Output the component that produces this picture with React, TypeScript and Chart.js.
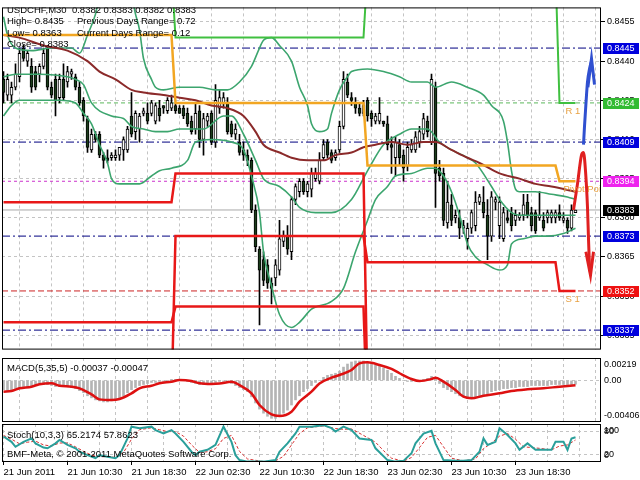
import { useEffect, useRef } from "react";
import { Chart, registerables } from "chart.js";

Chart.register(...registerables);

// ---------------- data ----------------
const xLabelBars = [0, 16, 32, 48, 64, 80, 96, 112, 128];
const xTickLabels = ["21 Jun 2011", "21 Jun 10:30", "21 Jun 18:30", "22 Jun 02:30", "22 Jun 10:30", "22 Jun 18:30", "23 Jun 02:30", "23 Jun 10:30", "23 Jun 18:30"];
const gridBars = [0, 8, 16, 24, 32, 40, 48, 56, 64, 72, 80, 88, 96, 104, 112, 120, 128, 136, 144];
const priceTicks = [0.8335, 0.835, 0.8365, 0.838, 0.8395, 0.841, 0.8425, 0.844, 0.8455];

const openPrices = [
  0.8433, 0.8427, 0.8427, 0.843, 0.8434, 0.8445, 0.844, 0.8438, 0.8436, 0.8435,
  0.8438, 0.8445, 0.843, 0.8433, 0.8426, 0.8433, 0.8432, 0.8435, 0.8434, 0.843,
  0.8425, 0.8418, 0.8406, 0.8412, 0.8412, 0.8404, 0.8403, 0.8403, 0.8403, 0.8404,
  0.8406, 0.8406, 0.8419, 0.8413, 0.8414, 0.842, 0.842, 0.842, 0.8417, 0.8422,
  0.8423, 0.8421, 0.8422, 0.8423, 0.8422, 0.8422, 0.842, 0.8417, 0.8414, 0.8421,
  0.841, 0.8417, 0.842, 0.8409, 0.8422, 0.8424, 0.8424, 0.8416, 0.8412, 0.8409,
  0.8406, 0.8404, 0.8402, 0.8383, 0.8368, 0.8364, 0.8362, 0.8355, 0.8357, 0.836,
  0.8371, 0.8373, 0.8367, 0.8387, 0.839, 0.8394, 0.839, 0.8391, 0.8395, 0.8394,
  0.8403, 0.8409, 0.8405, 0.8403, 0.8406, 0.8415, 0.8432, 0.8426, 0.8424, 0.8422,
  0.842, 0.8425, 0.842, 0.8417, 0.8417, 0.8417, 0.8416, 0.8408, 0.8403, 0.8408,
  0.8404, 0.84, 0.8406, 0.8406, 0.8409, 0.8412, 0.8417, 0.8409, 0.843, 0.8399,
  0.8397, 0.8378, 0.8385, 0.838, 0.838, 0.8376, 0.8372, 0.8376, 0.8377, 0.8386,
  0.8386, 0.8381, 0.8373, 0.8386, 0.8377, 0.8372, 0.838, 0.8382, 0.8379, 0.838,
  0.8381, 0.8386, 0.8382, 0.8382, 0.838, 0.8379, 0.838, 0.838, 0.838, 0.8382,
  0.8379, 0.8379, 0.8376, 0.8382,
];
const highPrices = [
  0.8436, 0.8435, 0.8432, 0.8439, 0.8445, 0.8446, 0.8444, 0.8441, 0.8438, 0.8439,
  0.8445, 0.8446, 0.8432, 0.8435, 0.8435, 0.8439, 0.8438, 0.8437, 0.8435, 0.8432,
  0.8426, 0.8419, 0.8414, 0.8413, 0.8413, 0.8405, 0.8406, 0.8405, 0.8406, 0.8407,
  0.8411, 0.8415, 0.8428, 0.8421, 0.842, 0.8422, 0.8424, 0.8425, 0.8424, 0.8425,
  0.8423, 0.8426, 0.8427, 0.8424, 0.8423, 0.8423, 0.8422, 0.8419, 0.8424, 0.8423,
  0.842, 0.842, 0.8421, 0.8431, 0.8429, 0.8428, 0.8426, 0.8417, 0.8416, 0.8412,
  0.8409, 0.8406, 0.8403, 0.8385, 0.8369, 0.8367, 0.8364, 0.8357, 0.8364, 0.8379,
  0.8375, 0.8377, 0.8388, 0.8393, 0.8395, 0.8395, 0.8394, 0.8399, 0.8399, 0.8405,
  0.841, 0.841, 0.8406, 0.8406, 0.8417, 0.8436, 0.8435, 0.8428, 0.8426, 0.8424,
  0.8425, 0.8426, 0.8421, 0.842, 0.8426, 0.8417, 0.8419, 0.8411, 0.8411, 0.841,
  0.8406, 0.8409, 0.841, 0.8413, 0.8415, 0.842, 0.8419, 0.8435, 0.8432, 0.8402,
  0.8399, 0.8394, 0.8389, 0.8383, 0.8383, 0.8379, 0.8378, 0.8383, 0.839, 0.8389,
  0.8392, 0.8387, 0.839, 0.8388, 0.8388, 0.8384, 0.8383, 0.8384, 0.8383, 0.8382,
  0.8389, 0.8389, 0.8384, 0.8383, 0.839, 0.8382, 0.8383, 0.8383, 0.8383, 0.8385,
  0.8382, 0.838, 0.8385, 0.8383,
];
const lowPrices = [
  0.8424, 0.8425, 0.8424, 0.8429, 0.8432, 0.844, 0.8438, 0.8428, 0.8429, 0.8432,
  0.8437, 0.8429, 0.8426, 0.8419, 0.8424, 0.8425, 0.843, 0.8433, 0.8429, 0.8423,
  0.8417, 0.8405, 0.8405, 0.8409, 0.8403, 0.8399, 0.8401, 0.8402, 0.8402, 0.8402,
  0.8402, 0.8405, 0.8411, 0.841, 0.8409, 0.8419, 0.8416, 0.8419, 0.8416, 0.8417,
  0.842, 0.842, 0.8421, 0.842, 0.842, 0.8418, 0.8415, 0.8412, 0.8412, 0.8407,
  0.8404, 0.8415, 0.8408, 0.8407, 0.842, 0.8422, 0.8412, 0.8411, 0.841, 0.8404,
  0.8402, 0.84, 0.8382, 0.8367, 0.8339, 0.8354, 0.8353, 0.8347, 0.8354, 0.8358,
  0.8369, 0.8366, 0.8364, 0.8385, 0.8388, 0.8389, 0.8388, 0.8388, 0.8394, 0.8393,
  0.8402, 0.8403, 0.8401, 0.8402, 0.8405, 0.8414, 0.8426, 0.8423, 0.842, 0.8419,
  0.8419, 0.8417, 0.8415, 0.8416, 0.8416, 0.8415, 0.8406, 0.8397, 0.8396, 0.84,
  0.8394, 0.8398, 0.8405, 0.8405, 0.8407, 0.841, 0.8411, 0.8408, 0.8384, 0.8394,
  0.8377, 0.8376, 0.8377, 0.8378, 0.8372, 0.8374, 0.8368, 0.8374, 0.8375, 0.8385,
  0.838, 0.8364, 0.8371, 0.8383, 0.8372, 0.8371, 0.8378, 0.8375, 0.8377, 0.8379,
  0.8379, 0.838, 0.8375, 0.8374, 0.8379, 0.8375, 0.8378, 0.8378, 0.8378, 0.8379,
  0.8378, 0.8374, 0.8375, 0.8382,
];
const closePrices = [
  0.8428, 0.8433, 0.843, 0.8435, 0.8443, 0.8441, 0.8443, 0.843, 0.843, 0.8438,
  0.8443, 0.843, 0.8427, 0.8425, 0.8433, 0.8426, 0.8436, 0.8436, 0.843, 0.8424,
  0.8419, 0.8407, 0.8412, 0.841, 0.8404, 0.8402, 0.8402, 0.8404, 0.8404, 0.8407,
  0.841, 0.8414, 0.8412, 0.842, 0.8419, 0.8421, 0.8417, 0.8424, 0.8423, 0.8419,
  0.8422, 0.8425, 0.8424, 0.8421, 0.842, 0.8419, 0.8416, 0.8413, 0.842, 0.841,
  0.8418, 0.8419, 0.8409, 0.8425, 0.8426, 0.8426, 0.8413, 0.8412, 0.8414, 0.8405,
  0.8404, 0.8402, 0.8383, 0.8369, 0.836, 0.8356, 0.8355, 0.8353, 0.8362, 0.8372,
  0.8373, 0.8368, 0.8387, 0.8392, 0.8394, 0.839, 0.8393, 0.8397, 0.8397, 0.8402,
  0.8408, 0.8404, 0.8402, 0.8405, 0.8415, 0.8433, 0.8427, 0.8425, 0.8422, 0.842,
  0.8423, 0.8419, 0.8418, 0.8419, 0.842, 0.8416, 0.8408, 0.8407, 0.8409, 0.8403,
  0.8399, 0.8407, 0.8408, 0.8411, 0.8413, 0.8418, 0.8413, 0.8433, 0.8397, 0.8396,
  0.8379, 0.8386, 0.8379, 0.8381, 0.8376, 0.8377, 0.8376, 0.8382, 0.8386, 0.8388,
  0.8382, 0.8373, 0.8388, 0.8387, 0.8386, 0.8382, 0.8379, 0.8377, 0.8381, 0.8381,
  0.8385, 0.8381, 0.8377, 0.8375, 0.8381, 0.8376, 0.8382, 0.8382, 0.8382, 0.838,
  0.838, 0.8376, 0.8383, 0.8383,
];

// Bollinger bands and moving average: [bar, price]
const bbUpper = [[0, 0.8457], [1, 0.845], [3, 0.8445], [7, 0.8444], [12, 0.8445], [17, 0.8445], [19, 0.8443], [21, 0.845], [23, 0.8458], [24, 0.8465], [28, 0.8471], [32, 0.8465], [33, 0.8458], [34, 0.8452], [35, 0.8441], [37, 0.8433], [38, 0.843], [40, 0.8429], [44, 0.843], [49, 0.843], [53, 0.8429], [56, 0.8429], [59, 0.8432], [62, 0.8438], [64, 0.8445], [65, 0.8448], [67, 0.8449], [69, 0.8446], [72, 0.844], [74, 0.843], [76, 0.8423], [77, 0.8416], [79, 0.8413], [81, 0.8414], [82, 0.842], [84, 0.8429], [86, 0.8434], [87, 0.8436], [91, 0.8437], [95, 0.8436], [99, 0.8434], [102, 0.8432], [106, 0.8432], [108, 0.843], [112, 0.8432], [116, 0.843], [120, 0.8427], [122, 0.8423], [125, 0.8417], [126, 0.8409], [127, 0.8398], [128, 0.8391], [129, 0.839], [133, 0.839], [137, 0.8389], [141, 0.8388], [143, 0.8387]];
const bbMiddle = [[0, 0.8434], [3, 0.8435], [9, 0.8435], [16, 0.8434], [18, 0.8433], [20, 0.8431], [22, 0.8424], [27, 0.8419], [30, 0.8418], [32, 0.8415], [35, 0.8414], [38, 0.8413], [41, 0.8413], [44, 0.8414], [48, 0.8414], [50, 0.8414], [55, 0.8419], [57, 0.8419], [60, 0.8412], [63, 0.8402], [65, 0.8395], [69, 0.8392], [72, 0.8388], [74, 0.8384], [78, 0.8382], [82, 0.8382], [87, 0.8387], [91, 0.8398], [95, 0.8408], [99, 0.8412], [102, 0.8414], [106, 0.8414], [109, 0.8409], [112, 0.8406], [116, 0.8403], [118, 0.8401], [122, 0.8392], [124, 0.8387], [127, 0.8382], [129, 0.8381], [133, 0.8381], [141, 0.8381], [143, 0.8381]];
const bbLower = [[0, 0.8419], [2, 0.8423], [4, 0.8425], [9, 0.8425], [14, 0.8425], [18, 0.8424], [20, 0.842], [22, 0.8416], [24, 0.8408], [26, 0.8401], [27, 0.8395], [29, 0.8393], [34, 0.8393], [37, 0.8396], [39, 0.8398], [42, 0.8399], [46, 0.8402], [48, 0.8409], [52, 0.841], [57, 0.8409], [60, 0.8406], [62, 0.8396], [64, 0.8382], [65, 0.8367], [67, 0.8354], [69, 0.8343], [72, 0.8338], [74, 0.834], [77, 0.8345], [82, 0.8348], [85, 0.8353], [88, 0.8367], [91, 0.8379], [93, 0.8387], [96, 0.8392], [98, 0.8396], [102, 0.8397], [106, 0.8399], [108, 0.8399], [110, 0.8396], [112, 0.839], [114, 0.8381], [116, 0.837], [118, 0.8365], [121, 0.8362], [124, 0.836], [126, 0.8362], [127, 0.837], [130, 0.8372], [133, 0.8373], [136, 0.8373], [140, 0.8374], [143, 0.8376]];
const maLine = [[0, 0.845], [4, 0.8449], [10, 0.8446], [16, 0.8444], [21, 0.844], [24, 0.8436], [28, 0.8433], [32, 0.8429], [35, 0.8428], [40, 0.8427], [44, 0.8426], [48, 0.8425], [52, 0.8423], [56, 0.8422], [60, 0.8419], [63, 0.8413], [65, 0.8408], [69, 0.8405], [72, 0.8403], [76, 0.8402], [80, 0.8402], [83, 0.8404], [87, 0.8405], [90, 0.8407], [93, 0.8408], [97, 0.8409], [101, 0.8408], [105, 0.8409], [108, 0.8409], [112, 0.8406], [116, 0.8403], [119, 0.8401], [124, 0.8397], [129, 0.8395], [133, 0.8393], [137, 0.8392], [143, 0.839]];

// daily pivot levels (step lines): [bar, price]
const pivotLine = [[0, 0.845], [42, 0.845], [43, 0.8424], [90, 0.8424], [91, 0.84], [138, 0.84], [139, 0.8394], [143, 0.8394]];
const r1Line = [[0, 0.8475], [42, 0.8475], [43, 0.8449], [90, 0.8449], [91, 0.8475], [138, 0.8475], [139, 0.8424], [143, 0.8424]];
const sLineA = [[0, 0.8386], [42, 0.8386], [43, 0.8397], [90, 0.8397], [91, 0.831], [143, 0.831]];
const sLineB = [[0, 0.834], [42, 0.834], [43, 0.8346], [90, 0.8346], [91, 0.83], [143, 0.83]];
const sLineC = [[0, 0.831], [42, 0.831], [43, 0.8373], [90, 0.8373], [91, 0.8363], [138, 0.8363], [139, 0.8352], [143, 0.8352]];

// horizontal price levels
const levelPrices = [0.8445, 0.8424, 0.8409, 0.8394, 0.8383, 0.8373, 0.8352, 0.8337];

// forecast arrows: [bar, price]
const redArrow = [[142.5, 0.8383], [143.5, 0.8393], [144.5, 0.8404], [145, 0.8405], [145.5, 0.8398], [146, 0.8384], [146.25, 0.8372], [146.5, 0.8362], [146.75, 0.8359]];
const redArrowHead = [[145.6, 0.8367], [146.75, 0.8358], [147.5, 0.8367]];
const blueArrow = [[145, 0.8408], [145.25, 0.8415], [145.5, 0.8421], [145.75, 0.8427], [146, 0.8432], [146.5, 0.8437], [147, 0.844]];
const blueArrowHead = [[146.1, 0.843], [147, 0.8441], [147.75, 0.8431]];

// MACD(5,35,5)
const macdHist = [
  -0.0009, -0.001, -0.0009, -0.0008, -0.0007, -0.0006, -0.0006, -0.0005, -0.0005, -0.0004,
  -0.0004, -0.0004, -0.0005, -0.0006, -0.0006, -0.0006, -0.0006, -0.0007, -0.0008, -0.001,
  -0.0012, -0.0015, -0.0017, -0.0019, -0.002, -0.0021, -0.0021, -0.002, -0.0019, -0.0017,
  -0.0015, -0.0012, -0.0009, -0.0007, -0.0005, -0.0004, -0.0003, -0.0002, -0.0002, -0.0001,
  -0.0001, 0.0, 0.0001, 0.0001, 0.0001, 0.0, -0.0001, -0.0002, -0.0003, -0.0004,
  -0.0004, -0.0004, -0.0003, -0.0002, -0.0001, -0.0001, -0.0002, -0.0003, -0.0005, -0.0007,
  -0.0009, -0.0011, -0.0016, -0.0022, -0.0028, -0.0032, -0.0035, -0.0037, -0.0037, -0.0035,
  -0.0032, -0.0029, -0.0024, -0.0019, -0.0015, -0.0011, -0.0008, -0.0005, -0.0002, 0.0,
  0.0003, 0.0005, 0.0006, 0.0007, 0.0009, 0.0013, 0.0016, 0.0018, 0.0019, 0.0019,
  0.0019, 0.0018, 0.0017, 0.0015, 0.0014, 0.0012, 0.001, 0.0007, 0.0004, 0.0002,
  0.0, -0.0001, -0.0001, 0.0, 0.0, 0.0001, 0.0002, 0.0004, 0.0001, -0.0003,
  -0.0007, -0.0009, -0.0011, -0.0013, -0.0015, -0.0016, -0.0017, -0.0017, -0.0016, -0.0015,
  -0.0014, -0.0013, -0.0011, -0.001, -0.0009, -0.0008, -0.0008, -0.0007, -0.0007, -0.0006,
  -0.0006, -0.0006, -0.0005, -0.0005, -0.0005, -0.0005, -0.0005, -0.0004, -0.0004, -0.0004,
  -0.0004, -0.0004, -0.0004, -0.00037,
];
const macdSignal = [[0, -0.0011], [2, -0.00103], [4, -0.00077], [7, -0.00061], [9, -0.00038], [12, -0.00028], [14, -0.00052], [17, -0.00061], [19, -0.00077], [22, -0.00136], [24, -0.00185], [27, -0.00192], [29, -0.00182], [32, -0.00126], [34, -0.00077], [37, -0.00052], [39, -0.00028], [42, -0.00012], [44, 0.00004], [47, -0.00006], [49, -0.00028], [52, -0.00035], [54, -0.00031], [57, -0.00012], [59, -0.00045], [62, -0.00126], [64, -0.0024], [67, -0.00332], [69, -0.00347], [72, -0.00305], [74, -0.00208], [77, -0.0011], [79, -0.0003], [82, 0.00027], [84, 0.00053], [87, 0.00102], [89, 0.00167], [91, 0.00177], [94, 0.00151], [97, 0.00112], [99, 0.0007], [102, 0.00014], [104, -0.00006], [107, 0.00014], [108, 0.00027], [110, -0.00012], [113, -0.00093], [115, -0.00159], [117, -0.00175], [120, -0.00149], [124, -0.00126], [127, -0.00103], [131, -0.00087], [135, -0.00077], [139, -0.00061], [143, -0.00047]];

// Stochastic(10,3,3)
const stochMain = [[0, 67], [2, 53], [3, 40], [5, 53], [7, 62], [8, 49], [10, 38], [11, 36], [13, 49], [14, 58], [16, 45], [18, 36], [19, 27], [21, 18], [23, 10], [24, 18], [26, 14], [28, 10], [29, 18], [31, 62], [32, 93], [34, 89], [37, 93], [38, 84], [40, 75], [42, 84], [43, 75], [45, 53], [47, 27], [48, 18], [49, 27], [51, 32], [53, 45], [55, 93], [57, 53], [58, 18], [59, 5], [61, 1], [65, 1], [68, 5], [69, 27], [71, 49], [73, 75], [74, 93], [77, 93], [80, 97], [82, 89], [83, 80], [85, 93], [87, 84], [89, 62], [92, 58], [93, 36], [96, 5], [98, 1], [100, 3], [102, 23], [103, 49], [105, 75], [107, 82], [108, 49], [110, 5], [113, 3], [115, 3], [117, 5], [119, 27], [120, 62], [121, 45], [123, 53], [124, 89], [126, 71], [128, 49], [129, 32], [131, 49], [133, 32], [137, 32], [138, 53], [140, 53], [141, 32], [142, 62], [143, 65.2174]];
const stochSignal = [[0, 70], [2, 60], [4, 48], [6, 52], [8, 55], [10, 45], [12, 42], [14, 50], [16, 50], [18, 40], [20, 28], [22, 18], [24, 14], [26, 14], [28, 12], [30, 25], [32, 60], [34, 85], [37, 90], [39, 85], [41, 80], [43, 80], [45, 68], [47, 45], [49, 25], [51, 27], [53, 35], [55, 62], [57, 70], [59, 28], [61, 8], [65, 1], [68, 3], [70, 15], [72, 45], [74, 75], [76, 90], [80, 95], [83, 88], [85, 86], [87, 87], [90, 70], [93, 52], [95, 30], [97, 10], [100, 2], [102, 12], [104, 38], [106, 65], [108, 70], [110, 40], [112, 10], [115, 3], [118, 8], [120, 35], [122, 50], [124, 68], [126, 75], [128, 60], [130, 40], [132, 38], [134, 36], [137, 32], [139, 42], [141, 45], [143, 57.8623]];

// ---------------- styles / layout ----------------
const X_MIN = -0.375;
const X_MAX = 149.375;
const PRICE_MIN = 0.832954;
const PRICE_MAX = 0.846057;
const MACD_MIN = -0.00406;
const MACD_MAX = 0.00219;
const FONT = '"Liberation Sans", Arial, sans-serif';
const GRID = "#c4c4c4";

const levelColors = ["#000080", "#5cb85c", "#000080", "#cc33cc", "#a8a8a8", "#000080", "#cc2222", "#000080"];
const levelDash = [[8, 3, 2, 3], [4, 3], [8, 3, 2, 3], [3, 3], [], [8, 3, 2, 3], [6, 3], [8, 3, 2, 3]];
const levelLabelBg = ["#0000dd", "#33bb33", "#0000dd", "#ee22ee", "#000000", "#0000dd", "#ee1111", "#0000dd"];

const toXY = (pairs: number[][]) => pairs.map(([x, y]) => ({ x, y }));

function lineDs(pairs: number[][], color: string, width: number, order: number, extra: any = {}) {
  return {
    type: "line",
    data: toXY(pairs),
    borderColor: color,
    borderWidth: width,
    pointRadius: 0,
    fill: false,
    tension: 0,
    order,
    ...extra,
  };
}

function makeDecor(cfg: any) {
  return {
    id: "decor",
    afterDatasetsDraw(chart: any) {
      const { ctx, chartArea: a, scales } = chart;
      ctx.save();
      ctx.beginPath();
      ctx.rect(a.left, a.top, a.right - a.left, a.bottom - a.top);
      ctx.clip();
      ctx.textBaseline = "middle";
      ctx.textAlign = "left";
      for (const t of cfg.anchored || []) {
        ctx.fillStyle = t.color;
        ctx.font = `9.5px ${FONT}`;
        ctx.fillText(t.text, scales.x.getPixelForValue(t.bar), scales.y.getPixelForValue(t.value) + t.dy);
      }
      for (const t of cfg.texts || []) {
        ctx.fillStyle = t.color || "#000";
        ctx.font = `${t.size || 9.5}px ${FONT}`;
        ctx.fillText(t.text, t.x, t.y);
      }
      ctx.restore();
    },
    afterDraw(chart: any) {
      const { ctx, chartArea: a, scales } = chart;
      ctx.save();
      ctx.strokeStyle = "#000";
      ctx.lineWidth = 1;
      ctx.setLineDash([]);
      ctx.strokeRect(a.left + 0.5, a.top + 0.5, a.right - a.left - 1, a.bottom - a.top - 1);
      ctx.font = `9px ${FONT}`;
      ctx.textBaseline = "middle";
      ctx.textAlign = "left";
      for (const b of cfg.boxes || []) {
        const y = Math.round(scales.y.getPixelForValue(b.value));
        ctx.fillStyle = b.bg;
        ctx.fillRect(a.right + 2, y - 5, 36, 11);
        ctx.fillStyle = "#fff";
        ctx.fillText(b.value.toFixed(4), a.right + 6, y + 0.5);
      }
      ctx.fillStyle = "#000";
      for (const s of cfg.side || []) {
        ctx.fillText(s.text, a.right + 3, scales.y.getPixelForValue(s.value) + s.dy);
      }
      ctx.restore();
    },
  };
}

function xScale(showLabels: boolean): any {
  return {
    type: "linear",
    min: X_MIN,
    max: X_MAX,
    offset: false,
    afterBuildTicks: (s: any) => {
      s.ticks = gridBars.map((v) => ({ value: v }));
    },
    ticks: showLabels
      ? {
          autoSkip: false,
          maxRotation: 0,
          minRotation: 0,
          align: "start",
          padding: 2,
          color: "#000",
          font: { family: FONT, size: 9.5 },
          callback: (v: any) => {
            const k = xLabelBars.indexOf(Number(v));
            return k >= 0 ? xTickLabels[k] : "";
          },
        }
      : { display: false },
    grid: {
      color: GRID,
      lineWidth: 1,
      drawTicks: showLabels,
      tickLength: 3,
      tickWidth: 1,
      tickBorderDash: [],
      tickColor: (c: any) => (c.tick && xLabelBars.includes(c.tick.value) ? "#000" : "rgba(0,0,0,0)"),
    },
    border: { display: false, dash: [3, 3] },
    afterFit: (s: any) => {
      s.height = showLabels ? 18 : 0;
    },
  };
}

function subY(min: number, max: number, gridValues: number[]): any {
  return {
    position: "right",
    min,
    max,
    afterBuildTicks: (s: any) => {
      s.ticks = gridValues.map((v) => ({ value: v }));
    },
    ticks: { display: false },
    grid: { color: GRID, drawTicks: false },
    border: { display: false, dash: [3, 3] },
    afterFit: (s: any) => {
      s.width = 39;
    },
  };
}

const baseOptions = {
  responsive: false,
  animation: false,
  devicePixelRatio: 1,
  events: [],
  plugins: { legend: { display: false }, tooltip: { enabled: false } },
};

function mainConfig(): any {
  const idx = openPrices.map((_, i) => i);
  const levelSets = levelPrices.map((p, i) =>
    lineDs([[X_MIN, p], [X_MAX, p]], levelColors[i], 1, 100 + i, { borderDash: levelDash[i] })
  );
  const bbStyle = { cubicInterpolationMode: "monotone" };
  return {
    type: "bar",
    data: {
      datasets: [
        ...levelSets,
        {
          type: "bar",
          data: idx.map((i) => ({ x: i, y: [lowPrices[i], highPrices[i]] })),
          backgroundColor: "#000",
          borderWidth: 0,
          barThickness: 1,
          grouped: false,
          order: 60,
        },
        {
          type: "bar",
          data: idx.map((i) => ({ x: i, y: [openPrices[i], closePrices[i]] })),
          backgroundColor: (c: any) =>
            closePrices[c.dataIndex] >= openPrices[c.dataIndex] ? "#ffffff" : "#1b3d1b",
          borderColor: "#000",
          borderWidth: 1,
          borderSkipped: false,
          barThickness: 3,
          minBarLength: 1,
          grouped: false,
          order: 55,
        },
        lineDs(bbUpper, "#3ca56e", 1.6, 40, bbStyle),
        lineDs(bbMiddle, "#3ca56e", 1.6, 40, bbStyle),
        lineDs(bbLower, "#3ca56e", 1.6, 40, bbStyle),
        lineDs(maLine, "#8b2a2a", 2, 35, bbStyle),
        lineDs(pivotLine, "#f2a622", 2.5, 30),
        lineDs(r1Line, "#40c040", 2, 30),
        lineDs(sLineA, "#e81818", 2.5, 30),
        lineDs(sLineB, "#e81818", 2.5, 30),
        lineDs(sLineC, "#e81818", 2.5, 30),
        lineDs(redArrow, "#e02020", 3, 5, { cubicInterpolationMode: "monotone" }),
        lineDs(redArrowHead, "#e02020", 3, 5),
        lineDs(blueArrow, "#3050d0", 3, 5, { cubicInterpolationMode: "monotone" }),
        lineDs(blueArrowHead, "#3050d0", 3, 5),
      ],
    },
    options: {
      ...baseOptions,
      layout: { padding: { left: 2, top: 2, right: 0, bottom: 2 } },
      scales: {
        x: xScale(false),
        y: {
          position: "right",
          min: PRICE_MIN,
          max: PRICE_MAX,
          afterBuildTicks: (s: any) => {
            s.ticks = priceTicks.map((v) => ({ value: v }));
          },
          ticks: {
            autoSkip: false,
            padding: 2,
            color: "#000",
            font: { family: FONT, size: 9 },
            callback: (v: any) => Number(v).toFixed(4),
          },
          grid: { color: GRID, tickColor: "#000", tickLength: 4, tickBorderDash: [] },
          border: { display: false, dash: [3, 3] },
          afterFit: (s: any) => {
            s.width = 39;
          },
        },
      },
    },
    plugins: [
      makeDecor({
        texts: [
          { text: "USDCHF,M30  0.8382 0.8383 0.8382 0.8383", x: 7, y: 10 },
          { text: "High= 0.8435", x: 7, y: 21 },
          { text: "Previous Days Range= 0.72", x: 77, y: 21 },
          { text: "Low= 0.8363", x: 7, y: 33 },
          { text: "Current Days Range= 0.12", x: 77, y: 33 },
          { text: "Close= 0.8383", x: 7, y: 44 },
        ],
        anchored: [
          { text: "R 1", bar: 140.5, value: 0.8424, dy: 8, color: "#e8a040" },
          { text: "Pivot Point", bar: 140, value: 0.8394, dy: 8, color: "#e8a040" },
          { text: "S 1", bar: 140.5, value: 0.8352, dy: 8, color: "#e8a040" },
        ],
        boxes: levelPrices.map((p, i) => ({ value: p, bg: levelLabelBg[i] })),
      }),
    ],
  };
}

function macdConfig(): any {
  return {
    type: "bar",
    data: {
      datasets: [
        {
          type: "bar",
          data: macdHist.map((v, i) => ({ x: i, y: v })),
          backgroundColor: "#b4b4b4",
          borderWidth: 0,
          barThickness: 2,
          grouped: false,
          order: 20,
        },
        lineDs(macdSignal, "#dd1111", 2.5, 5, { cubicInterpolationMode: "monotone" }),
      ],
    },
    options: {
      ...baseOptions,
      layout: { padding: { left: 2, top: 2, right: 0, bottom: 2 } },
      scales: { x: xScale(false), y: subY(MACD_MIN, MACD_MAX, [0]) },
    },
    plugins: [
      makeDecor({
        texts: [{ text: "MACD(5,35,5) -0.00037 -0.00047", x: 7, y: 12.5 }],
        side: [
          { text: "0.00219", value: MACD_MAX, dy: 7 },
          { text: "0.00", value: 0, dy: 0 },
          { text: "-0.00406", value: MACD_MIN, dy: -6 },
        ],
      }),
    ],
  };
}

function stochConfig(): any {
  return {
    type: "line",
    data: {
      datasets: [
        lineDs(stochSignal, "#d83030", 1, 10, { borderDash: [3, 2] }),
        lineDs(stochMain, "#2a9f9a", 2, 5),
      ],
    },
    options: {
      ...baseOptions,
      layout: { padding: { left: 2, top: 2, right: 0, bottom: 0 } },
      scales: { x: xScale(true), y: subY(0, 100, [20, 80]) },
    },
    plugins: [
      makeDecor({
        texts: [
          { text: "Stoch(10,3,3) 65.2174 57.8623", x: 7, y: 13 },
          { text: "BMF-Meta, \u00a9 2001-2011 MetaQuotes Software Corp.", x: 7, y: 32 },
        ],
        side: [
          { text: "100", value: 100, dy: 7 },
          { text: "80", value: 80, dy: 0 },
          { text: "20", value: 20, dy: 0 },
          { text: "0", value: 0, dy: -6 },
        ],
      }),
    ],
  };
}

export default function App() {
  const mainRef = useRef<HTMLCanvasElement>(null);
  const macdRef = useRef<HTMLCanvasElement>(null);
  const stochRef = useRef<HTMLCanvasElement>(null);

  useEffect(() => {
    const charts = [
      new Chart(mainRef.current as HTMLCanvasElement, mainConfig()),
      new Chart(macdRef.current as HTMLCanvasElement, macdConfig()),
      new Chart(stochRef.current as HTMLCanvasElement, stochConfig()),
    ];
    return () => charts.forEach((c) => c.destroy());
  }, []);

  return (
    <div style={{ position: "fixed", left: 0, top: 0, width: 640, height: 480, background: "#fff", overflow: "hidden" }}>
      <canvas ref={mainRef} width={640} height={357} style={{ position: "absolute", left: 0, top: 0, width: 640, height: 357 }} />
      <canvas ref={macdRef} width={640} height={68} style={{ position: "absolute", left: 0, top: 356, width: 640, height: 68 }} />
      <canvas ref={stochRef} width={640} height={58} style={{ position: "absolute", left: 0, top: 422, width: 640, height: 58 }} />
    </div>
  );
}
